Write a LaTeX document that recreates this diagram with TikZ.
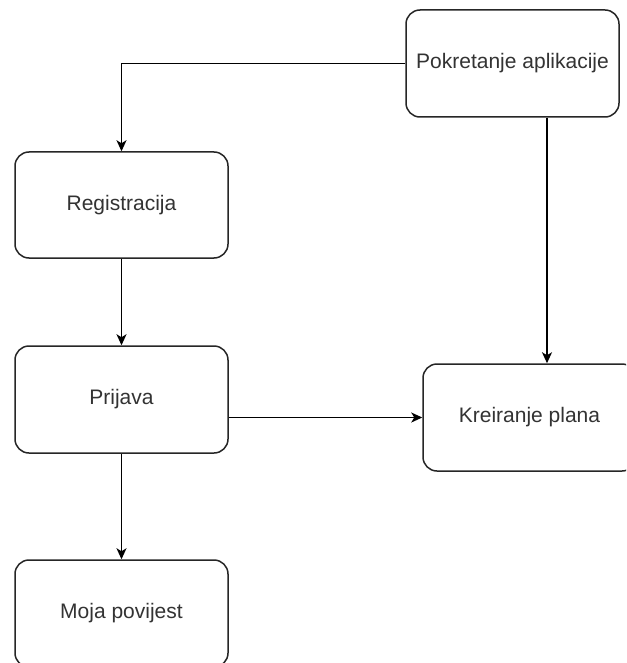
\documentclass[tikz,border=0pt]{standalone}
\usepackage{fontspec}
\setmainfont{Liberation Sans}
\usetikzlibrary{arrows.meta,calc}
\tikzset{
  box/.style={draw=black!85, line width=1.5pt, rounded corners=14pt, fill=white,
    minimum width=213pt, minimum height=106pt, inner sep=0pt,
    text=black!80, font=\fontsize{21}{25}\selectfont},
  conn/.style={draw=black, line width=1.5pt,
    -{Stealth[length=11pt,width=10pt,inset=3pt]}}
}
\begin{document}
\begin{tikzpicture}[x=1pt,y=-1pt]
  \clip (0,0) rectangle (626,663);
  \fill[white] (0,0) rectangle (626,663);
  \node[box, minimum height=107pt] (pok) at (512.5,63.5) {Pokretanje aplikacije};
  \node[box] (reg) at (121.5,205) {Registracija};
  \node[box, minimum height=107pt] (pri) at (121.5,399.5) {Prijava};
  \node[box, minimum height=107pt] (kre) at (529.5,417.5) {Kreiranje plana};
  \node[box, minimum height=107pt] (moj) at (121.5,613.5) {Moja povijest};
  \draw[conn] (pok.west) -| (reg.north);
  \draw[conn] ([xshift=34.5pt]pok.south) -- ([xshift=34.5pt]pok.south |- kre.north);
  \draw[conn] (reg.south) -- (pri.north);
  \draw[conn] (pri.east |- kre.west) -- (kre.west);
  \draw[conn] (pri.south) -- (moj.north);
\end{tikzpicture}
\end{document}
